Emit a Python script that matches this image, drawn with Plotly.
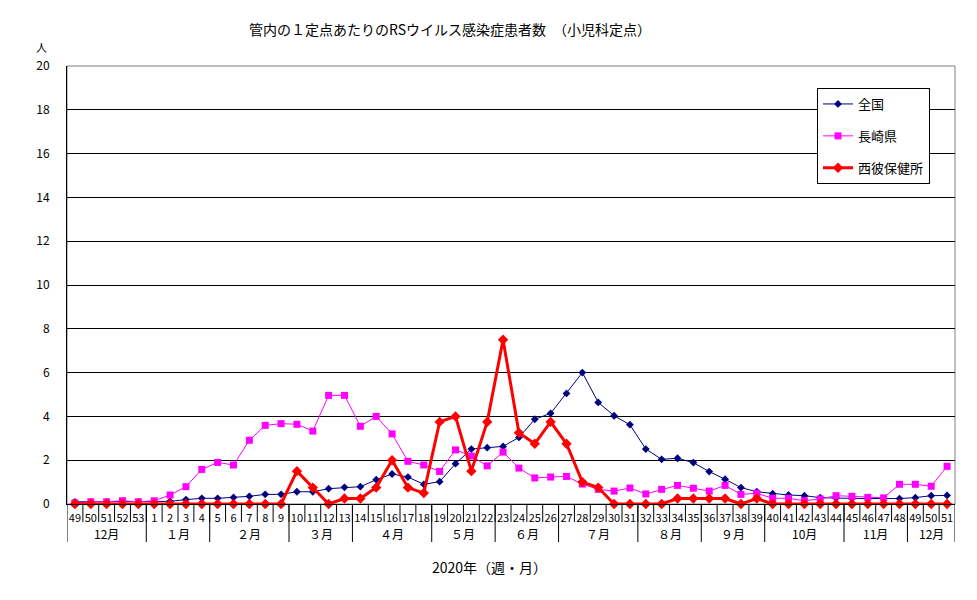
import numpy as np
import plotly.graph_objects as go

# -----------------------------
# Data
# -----------------------------
weeks = [49, 50, 51, 52, 53] + list(range(1, 52))

month_labels = ["12月", "１月", "２月", "３月", "４月", "５月", "６月",
                "７月", "８月", "９月", "10月", "11月", "12月"]
month_week_counts = [5, 4, 5, 4, 5, 4, 4, 5, 4, 4, 5, 4, 3]

zenkoku = [0.1, 0.1, 0.1, 0.1, 0.1,
           0.1, 0.12, 0.2, 0.26, 0.26, 0.3, 0.35, 0.44, 0.44, 0.56,
           0.56, 0.7, 0.76, 0.79, 1.11, 1.37, 1.23, 0.9, 1.02, 1.84,
           2.51, 2.57, 2.63, 3.04, 3.87, 4.14, 5.05, 6.0, 4.64, 4.03,
           3.62, 2.51, 2.04, 2.09, 1.89, 1.48, 1.13, 0.75, 0.56, 0.47,
           0.41, 0.38, 0.29, 0.27, 0.25, 0.25, 0.25, 0.25, 0.29, 0.38,
           0.39]

nagasaki = [0.05, 0.1, 0.1, 0.15, 0.1,
            0.15, 0.41, 0.79, 1.58, 1.9, 1.78, 2.91, 3.59, 3.67, 3.64,
            3.33, 4.96, 4.96, 3.55, 4.0, 3.2, 1.95, 1.78, 1.49, 2.47,
            2.19, 1.74, 2.37, 1.64, 1.19, 1.23, 1.26, 0.91, 0.67, 0.59,
            0.73, 0.46, 0.67, 0.85, 0.72, 0.59, 0.85, 0.44, 0.49, 0.26,
            0.26, 0.15, 0.23, 0.38, 0.35, 0.3, 0.28, 0.9, 0.9, 0.81,
            1.72]

saihi = [0, 0, 0, 0, 0,
         0, 0, 0, 0, 0, 0, 0, 0, 0, 1.5,
         0.75, 0, 0.25, 0.25, 0.75, 2.0, 0.75, 0.5, 3.75, 4.0,
         1.5, 3.75, 7.5, 3.25, 2.75, 3.75, 2.75, 1.0, 0.75, 0,
         0, 0, 0, 0.25, 0.25, 0.25, 0.25, 0, 0.25, 0,
         0, 0, 0, 0, 0, 0, 0, 0, 0, 0,
         0]

y_ticks = list(range(0, 21, 2))

FONT = "Noto Sans CJK JP, sans-serif"

# -----------------------------
# Figure
# -----------------------------
x = list(range(len(weeks)))

fig = go.Figure()

series = [
    ("全国", zenkoku, "#000080", 1, "diamond", 6),
    ("長崎県", nagasaki, "#FF00FF", 1, "square", 7),
    ("西彼保健所", saihi, "#FF0000", 3, "diamond", 8),
]

for name, vals, color, lw, sym, ms in series:
    fig.add_trace(go.Scatter(
        x=x, y=vals, name=name, mode="lines+markers",
        legendgroup=name,
        line=dict(color=color, width=lw),
        marker=dict(symbol=sym, size=ms, color=color),
        cliponaxis=False,
    ))

# week / month separators below the axis
shapes = []
week_bottom = -18 / 438
month_bottom = -38 / 438
for i in range(len(weeks) - 1):
    shapes.append(dict(type="line", xref="x", yref="paper",
                       x0=i + 0.5, x1=i + 0.5, y0=0, y1=week_bottom,
                       line=dict(color="black", width=1)))

edges = np.cumsum([0] + month_week_counts) - 0.5
for e in edges:
    shapes.append(dict(type="line", xref="x", yref="paper",
                       x0=e, x1=e, y0=0, y1=month_bottom,
                       line=dict(color="black", width=1)))

# plot area frame (grey top / right)
shapes.append(dict(type="rect", xref="paper", yref="paper",
                   x0=0, x1=1, y0=0, y1=1, layer="below",
                   line=dict(color="#808080", width=1)))

annotations = []
for lab, lo, hi in zip(month_labels, edges[:-1], edges[1:]):
    annotations.append(dict(x=(lo + hi) / 2, y=-29 / 438, xref="x", yref="paper",
                            text=lab, showarrow=False,
                            xanchor="center", yanchor="middle",
                            font=dict(size=12, color="black", family=FONT)))

annotations.append(dict(x=(489 - 67) / 888, y=-63 / 438, xref="paper", yref="paper",
                        text="2020年（週・月）", showarrow=False,
                        xanchor="center", yanchor="middle",
                        font=dict(size=14, color="black", family=FONT)))
annotations.append(dict(x=(41 - 67) / 888, y=(504 - 47) / 438, xref="paper", yref="paper",
                        text="人", showarrow=False,
                        xanchor="center", yanchor="middle",
                        font=dict(size=11, color="black", family=FONT)))

fig.update_layout(
    width=977, height=600,
    margin=dict(l=67, r=22, t=66, b=96),
    paper_bgcolor="white", plot_bgcolor="white",
    font=dict(family=FONT, color="black"),
    title=dict(text="管内の１定点あたりのRSウイルス感染症患者数　（小児科定点）",
               x=450 / 977, xanchor="center", y=1 - 30 / 600, yanchor="middle",
               font=dict(size=14, color="black", family=FONT)),
    xaxis=dict(range=[-0.5, len(weeks) - 0.5], tickvals=x,
               ticktext=[str(w) for w in weeks], ticks="",
               showgrid=False, zeroline=False, showline=True,
               linecolor="black", linewidth=1,
               tickfont=dict(size=11, color="black", family=FONT),
               ticklabelstandoff=4),
    yaxis=dict(range=[0, 20], tickvals=y_ticks, ticks="",
               showgrid=True, gridcolor="black", gridwidth=1,
               zeroline=False, showline=True, linecolor="black", linewidth=1,
               tickfont=dict(size=12, color="black", family=FONT),
               ticklabelstandoff=14),
    legend=dict(x=(817 - 67) / 888, y=(504 - 88) / 438,
                xanchor="left", yanchor="top",
                bgcolor="white", bordercolor="black", borderwidth=1,
                traceorder="grouped", tracegroupgap=12,
                font=dict(size=13, color="black", family=FONT)),
    shapes=shapes,
    annotations=annotations,
    showlegend=True,
)

# page body has a default 8px margin; drop it so the figure sits at 0,0
fig.write_html("out.html", config={"displayModeBar": False},
               post_script="document.body.style.margin='0';")
